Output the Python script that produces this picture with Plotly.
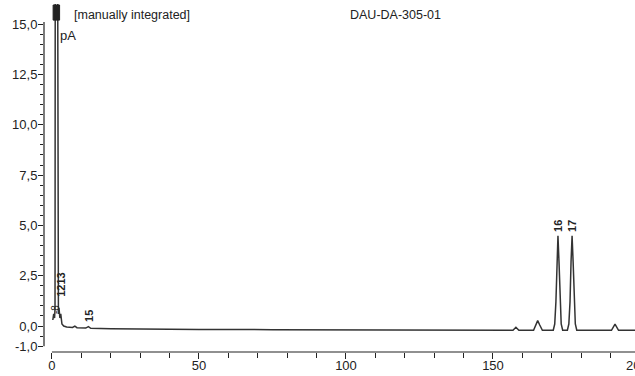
import plotly.graph_objects as go

# ---- data ----
time_min = [0.3, 0.6, 0.9, 1.05, 1.12, 1.2, 1.95, 2.03, 2.2, 2.4, 2.7, 3.0, 3.4, 4.0, 5.0,
            7.0, 7.8, 8.5, 11.5, 12.4, 13.2, 20, 30, 50, 75, 100, 125, 150,
            156.8, 157.8, 158.8, 163.8, 164.5, 165.2, 165.9, 166.8,
            170.5, 171.0, 171.4, 171.75, 172.1, 172.45, 172.8, 173.2, 173.7,
            175.3, 175.8, 176.2, 176.55, 176.9, 177.25, 177.6, 178.0, 178.5,
            190.3, 191.5, 192.7, 198.5]
signal_pA = [0.3, 0.6, 0.4, 0.9, 17.0, 17.5, 17.5, 1.2, 0.6, 0.9, 0.4, 0.6, 0.1, 0.0, -0.05,
             -0.07, 0.0, -0.08, -0.1, -0.03, -0.11, -0.13, -0.15, -0.17, -0.18, -0.19, -0.2, -0.2,
             -0.21, -0.06, -0.21, -0.21, 0.05, 0.27, 0.05, -0.21,
             -0.21, 0.1, 1.2, 3.2, 4.48, 3.2, 1.2, 0.1, -0.21,
             -0.21, 0.1, 1.2, 3.2, 4.48, 3.2, 1.2, 0.1, -0.21,
             -0.21, 0.1, -0.21, -0.21]

peak_names = ["1213", "15", "16", "17"]
peak_times = [3.1, 12.6, 172.1, 176.9]
label_levels = [2.05, 0.5, 4.97, 4.97]

y_major = [-1.0, 0.0, 2.5, 5.0, 7.5, 10.0, 12.5, 15.0]
y_major_text = ["-1,0", "0,0", "2,5", "5,0", "7,5", "10,0", "12,5", "15,0"]
y_minor = [v / 2 for v in range(-2, 31) if (v / 2) not in y_major]
x_major = [0, 50, 100, 150]
x_minor = [v for v in range(10, 200, 10) if v not in x_major]

title_text = "DAU-DA-305-01"
note_text = "[manually integrated]"
unit_text = "pA"

XMIN, XMAX = -2.7, 198.3
YMIN, YMAX = -1.29, 16.0
FONT = "Liberation Sans, Arial, sans-serif"
INK = "#222222"

fig = go.Figure()
fig.add_trace(go.Scatter(x=time_min, y=signal_pA, mode="lines",
                         line=dict(color="#333333", width=1.5), hoverinfo="skip"))

for name, t, lv in zip(peak_names, peak_times, label_levels):
    fig.add_annotation(x=t, y=lv, text="<b>" + name + "</b>", showarrow=False, textangle=-90,
                       xanchor="center", yanchor="middle",
                       font=dict(family=FONT, size=11, color=INK))

# clutter of small labels at the solvent peak foot
fig.add_annotation(x=1.4, y=0.8, text="-8", showarrow=False, textangle=-90,
                   font=dict(family=FONT, size=10, color=INK))

# overlapping labels at the top of the solvent peak
fig.add_shape(type="rect", x0=0.4, x1=2.6, y0=15.2, y1=15.95,
              fillcolor=INK, line=dict(color=INK, width=1))
fig.add_annotation(x=2.0, y=14.46, text=unit_text, showarrow=False, xanchor="left",
                   font=dict(family=FONT, size=13, color=INK))
fig.add_annotation(x=6.8, y=15.45, text=note_text, showarrow=False, xanchor="left",
                   font=dict(family=FONT, size=12.5, color=INK))
fig.add_annotation(x=116.7, y=15.45, text=title_text, showarrow=False, xanchor="center",
                   font=dict(family=FONT, size=12.5, color=INK))

# axis lines (drawn separately, as in the original)
fig.add_shape(type="line", xref="paper", yref="y", x0=0, x1=0, y0=-1.0, y1=15.1,
              line=dict(color=INK, width=1.2))
fig.add_shape(type="line", xref="x", yref="paper", x0=0, x1=XMAX, y0=0, y1=0,
              line=dict(color=INK, width=1.2))

# clipped "200" label at the right edge
fig.add_annotation(xref="paper", yref="paper", x=1.0034, y=0,
                   yshift=-13, text="200", showarrow=False, xanchor="center", yanchor="middle",
                   font=dict(family=FONT, size=13, color=INK))

fig.update_xaxes(range=[XMIN, XMAX], showgrid=False, zeroline=False, showline=False,
                 tickmode="array", tickvals=x_major, ticktext=[str(v) for v in x_major],
                 ticks="outside", ticklen=6, tickwidth=1, tickcolor=INK,
                 ticklabelstandoff=-5,
                 tickfont=dict(family=FONT, size=13, color=INK),
                 minor=dict(tickmode="array", tickvals=x_minor, ticks="outside",
                            ticklen=5, tickwidth=1, tickcolor=INK, showgrid=False))
fig.update_yaxes(range=[YMIN, YMAX], showgrid=False, zeroline=False, showline=False,
                 tickmode="array", tickvals=y_major, ticktext=y_major_text,
                 ticks="outside", ticklen=5, tickwidth=1, tickcolor=INK,
                 ticklabelstandoff=-2,
                 tickfont=dict(family=FONT, size=13, color=INK),
                 minor=dict(tickmode="array", tickvals=y_minor, ticks="outside",
                            ticklen=3, tickwidth=1, tickcolor=INK, showgrid=False))

fig.update_layout(width=635, height=376, margin=dict(l=44, r=0, t=4, b=24),
                  paper_bgcolor="white", plot_bgcolor="white", showlegend=False)

fig.write_html("out.html", config={"displayModeBar": False},
               post_script="document.body.style.margin='0';document.body.style.overflow='hidden';")
